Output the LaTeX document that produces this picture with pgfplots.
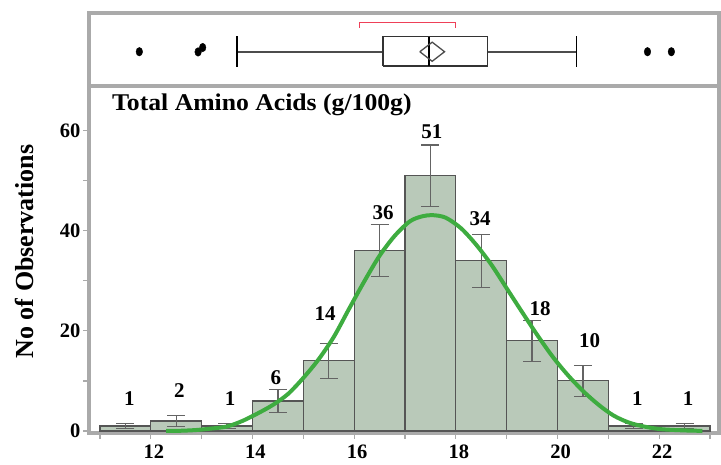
\documentclass[border=0pt]{standalone}
\usepackage{pgfplots}
\usepackage{pgfplotstable}
\pgfplotsset{compat=1.18}
\usepackage{fontspec}
\setmainfont{Liberation Serif}
\newfontfamily\titlefont[FakeStretch=1.07]{Liberation Serif}

\definecolor{framegray}{RGB}{170,170,170}
\definecolor{barfill}{RGB}{185,201,185}
\definecolor{baredge}{RGB}{85,85,85}
\definecolor{errgray}{RGB}{100,100,100}
\definecolor{fitgreen}{RGB}{62,172,64}
\definecolor{bracketred}{RGB}{238,64,88}

% histogram: left bin edge and count (last row closes the final bin)
\pgfplotstableread{
left count
11 1
12 2
13 1
14 6
15 14
16 36
17 51
18 34
19 18
20 10
21 1
22 1
23 0
}\histdata

% error bars at bin centres
\pgfplotstableread{
x y e
11.5 1 0.45
12.5 2 1.1
13.5 1 0.45
14.5 6 2.3
15.5 14 3.5
16.5 36 5.2
17.5 51 6.1
18.5 34 5.3
19.5 18 4.1
20.5 10 3.1
21.5 1 0.45
22.5 1 0.45
}\errdata

% count labels above the bars
\pgfplotstableread{
x y label
11.58 6.4 1
12.56 8.1 2
13.56 6.4 1
14.46 10.6 6
15.43 23.4 14
16.57 43.6 36
17.53 59.8 51
18.48 42.4 34
19.66 24.4 18
20.63 18.1 10
21.57 6.4 1
22.57 6.4 1
}\labeldata

% fitted normal density, scaled to counts
\pgfplotstableread{
x y
12.30 0.0
12.60 0.05
12.90 0.2
13.20 0.5
13.50 0.9
13.80 2.0
14.10 3.5
14.40 5.2
14.70 7.4
15.00 10.6
15.30 14.3
15.60 18.8
15.90 24.4
16.20 29.9
16.50 35.0
16.80 39.0
17.10 41.9
17.35 42.9
17.55 43.1
17.80 42.6
18.10 40.5
18.40 37.2
18.70 33.2
19.00 28.5
19.30 23.8
19.60 19.2
19.90 14.9
20.20 11.2
20.50 8.0
20.80 5.3
21.10 3.1
21.40 1.7
21.70 0.9
22.00 0.4
22.30 0.2
22.60 0.08
22.85 0.03
}\fitdata

\begin{document}
\begin{tikzpicture}
\path[use as bounding box] (0bp,0bp) rectangle (721bp,465bp);

% ---------- outlier box plot ----------
\begin{axis}[
  at={(89bp,378.5bp)}, anchor=south west,
  scale only axis, width=629.5bp, height=73.5bp,
  xmin=10.784, xmax=23.167, ymin=0, ymax=1,
  axis line style={draw=framegray, line width=4bp},
  ticks=none, clip=false,
]
% shortest half bracket
\addplot[draw=bracketred, line width=1.2bp] coordinates {(16.098,0.80) (16.098,0.873) (17.988,0.873) (17.988,0.80)};
% whiskers
\addplot[draw=black!70, line width=2bp] coordinates {(13.697,0.473) (16.571,0.473)};
\addplot[draw=black!70, line width=2bp] coordinates {(18.618,0.473) (20.37,0.473)};
\addplot[draw=black, line width=1.5bp] coordinates {(13.697,0.27) (13.697,0.687)};
\addplot[draw=black, line width=1.5bp] coordinates {(20.37,0.27) (20.37,0.687)};
% box
\addplot[draw=black!80, line width=1.4bp] coordinates {(16.571,0.279) (18.618,0.279) (18.618,0.678) (16.571,0.678) (16.571,0.279)};
% median
\addplot[draw=black, line width=1.5bp] coordinates {(17.476,0.279) (17.476,0.678)};
% mean diamond
\addplot[draw=black!70, line width=1.3bp] coordinates {(17.292,0.473) (17.535,0.603) (17.778,0.473) (17.535,0.343) (17.292,0.473)};
% outliers
\addplot[only marks, mark=*, mark size=3.3bp, mark options={fill=black, draw=black, yscale=1.3}]
  coordinates {(11.774,0.473) (12.93,0.47) (13.02,0.53) (21.77,0.473) (22.24,0.473)};
\end{axis}

% ---------- histogram ----------
\begin{axis}[
  at={(89bp,32bp)}, anchor=south west,
  scale only axis, width=629.5bp, height=346.5bp,
  xmin=10.784, xmax=23.167, ymin=-0.4, ymax=68.8,
  axis line style={draw=framegray, line width=4bp},
  xtick={12,14,...,22}, minor xtick={11,13,...,23},
  ytick={0,20,40,60}, minor ytick={10,30,50},
  xtick pos=bottom, ytick pos=left,
  tick align=outside,
  major tick length=6bp, minor tick length=6bp,
  every tick/.style={draw=framegray, line width=1.2bp},
  /pgf/number format/assume math mode=true,
  ticklabel style={font=\fontsize{20.5bp}{22bp}\selectfont\bfseries},
  xticklabel style={xshift=3bp, yshift=-2bp},
  yticklabel style={xshift=1bp},
]
\addplot[ybar interval, fill=barfill, draw=baredge, line width=1.1bp]
  table[x=left, y=count] {\histdata};
\addplot[draw=none, mark=none,
  error bars/.cd, y dir=both, y explicit, error mark=|,
  error bar style={draw=errgray, line width=1.3bp},
  error mark options={draw=errgray, line width=1.3bp, mark size=9bp}]
  table[x=x, y=y, y error=e] {\errdata};
\addplot[fitgreen, line width=4bp, smooth, tension=0.5] table[x=x, y=y] {\fitdata};
\addplot[draw=none, mark=none, nodes near coords, point meta=explicit symbolic,
  every node near coord/.append style={anchor=center, inner sep=0pt, text=black,
    font=\fontsize{21bp}{23bp}\selectfont\bfseries}]
  table[x=x, y=y, meta=label] {\labeldata};
\end{axis}

\node[anchor=base west, inner sep=0pt, font=\titlefont\fontsize{24bp}{26bp}\selectfont\bfseries]
  at (112bp,354.3bp) {Total Amino Acids (g/100g)};
\node[anchor=base, rotate=90, inner sep=0pt, font=\fontsize{26bp}{28bp}\selectfont\bfseries]
  at (33bp,213.5bp) {No of Observations};
\end{tikzpicture}
\end{document}
